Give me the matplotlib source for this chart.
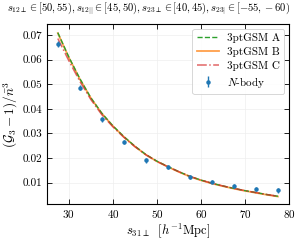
import matplotlib
matplotlib.use("Agg")
import matplotlib.pyplot as plt
import numpy as np

plt.rcParams['mathtext.fontset'] = 'cm'
plt.rcParams['font.family'] = 'serif'
plt.rcParams['font.serif'] = ['cmr10', 'DejaVu Serif']
plt.rcParams['axes.formatter.use_mathtext'] = True

s_nb = [27.5, 32.5, 37.5, 42.5, 47.5, 52.5, 57.5, 62.5, 67.5, 72.5, 77.5]
g_nb = [0.0663, 0.0485, 0.0357, 0.0265, 0.0191, 0.0164, 0.0123, 0.0104, 0.0085, 0.0074, 0.0069]
g_err = [0.0012, 0.0010, 0.0009, 0.0009, 0.0010, 0.0008, 0.0008, 0.0008, 0.0008, 0.0009, 0.0010]

s_mod = [27.5, 30.0, 32.5, 35.0, 37.5, 40.0, 42.5, 45.0, 47.5, 50.0, 52.5,
         55.0, 57.5, 60.0, 62.5, 65.0, 67.5, 70.0, 72.5, 75.0, 77.5]
g_A = [0.0710, 0.0611, 0.0523, 0.0445, 0.0382, 0.0331, 0.0287, 0.0248, 0.0214, 0.0187, 0.0165,
       0.0144, 0.0125, 0.0110, 0.0097, 0.0086, 0.0076, 0.0067, 0.0059, 0.0051, 0.0044]
g_B = [0.0708, 0.0609, 0.0521, 0.0444, 0.0381, 0.0330, 0.0286, 0.0247, 0.0213, 0.0186, 0.0164,
       0.0143, 0.0124, 0.0109, 0.0096, 0.0085, 0.0075, 0.0066, 0.0058, 0.0050, 0.0043]
g_C = [0.0686, 0.0596, 0.0512, 0.0438, 0.0376, 0.0327, 0.0284, 0.0246, 0.0213, 0.0186, 0.0164,
       0.0144, 0.0125, 0.0110, 0.0097, 0.0086, 0.0076, 0.0067, 0.0059, 0.0051, 0.0044]

fig = plt.figure(figsize=(3.0, 2.43), dpi=100)
ax = fig.add_axes([0.156, 0.16, 0.807, 0.741])

ax.plot(s_mod, g_A, color='#2ca02c', ls='--', lw=1.0, label='3ptGSM A', zorder=3)
ax.plot(s_mod, g_B, color='#ff7f0e', ls='-', lw=1.3, alpha=0.75, label='3ptGSM B', zorder=2)
ax.plot(s_mod, g_C, color='#d62728', ls='-.', lw=1.1, alpha=0.7, label='3ptGSM C', zorder=4)
ax.errorbar(s_nb, g_nb, yerr=g_err, fmt='o', ms=2.2, color='#1f77b4', elinewidth=1.0,
            capsize=0, label=r'$N$-body', zorder=5)

ax.set_xlim(25, 80)
ax.set_ylim(0.0012, 0.0745)
ax.set_xticks([30, 40, 50, 60, 70, 80])
ax.set_yticks([0.01, 0.02, 0.03, 0.04, 0.05, 0.06, 0.07])
ax.set_yticklabels(['0.01', '0.02', '0.03', '0.04', '0.05', '0.06', '0.07'])
ax.tick_params(direction='in', top=True, right=True, labelsize=8, length=3.5, width=0.6, pad=3)
ax.grid(True, color='#eeeeee', lw=0.5)
for sp in ax.spines.values():
    sp.set_linewidth(0.8)

ax.set_xlabel(r'$s_{31\perp}\ \ [h^{-1}\mathrm{Mpc}]$', fontsize=9, labelpad=1)
ax.set_ylabel(r'$(\mathcal{G}_3-1)/\bar{n}^3$', fontsize=9.5, labelpad=2)
fig.text(0.497, 0.963,
         r'$s_{12\perp}\in[50,55),s_{12||}\in[45,50),s_{23\perp}\in[40,45),s_{23|}\in[-55,-60)$',
         fontsize=7.6, ha='center', va='center')

leg = ax.legend(loc='upper right', fontsize=8, handlelength=2.0, borderpad=0.4,
                labelspacing=0.35, handletextpad=0.7, borderaxespad=0.4,
                framealpha=0.9, edgecolor='#cccccc', fancybox=True)
leg.get_frame().set_linewidth(0.6)

fig.savefig('out.png', dpi=100)
